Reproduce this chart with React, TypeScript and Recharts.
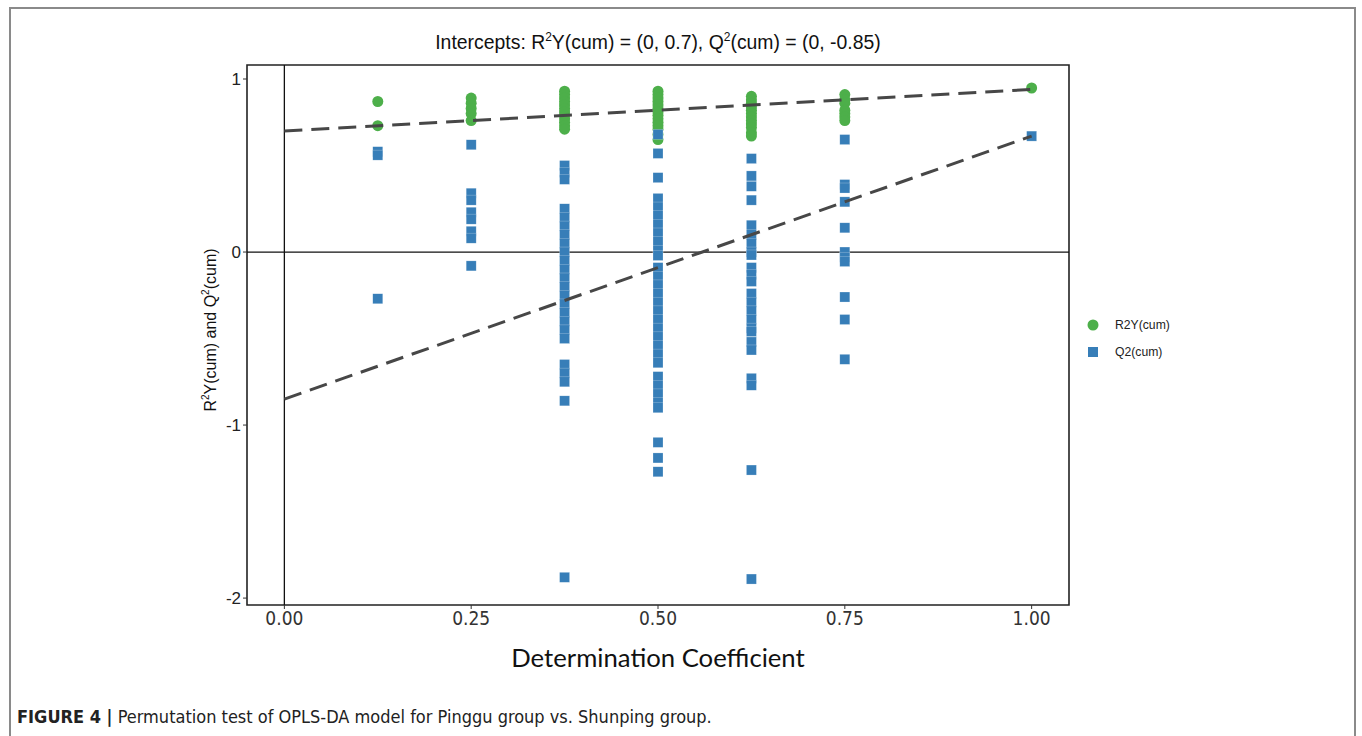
import React from 'react';
import { ScatterChart, Scatter, XAxis, YAxis, ReferenceLine, ReferenceArea } from 'recharts';

const xCategories = [0.125, 0.25, 0.375, 0.5, 0.625, 0.75, 1.0];

const r2Values: number[][] = [
  [0.87, 0.73],
  [0.89, 0.86, 0.83, 0.8, 0.76],
  [0.93, 0.91, 0.89, 0.87, 0.85, 0.83, 0.81, 0.79, 0.77, 0.75, 0.73, 0.71],
  [0.93, 0.91, 0.89, 0.87, 0.85, 0.83, 0.81, 0.79, 0.77, 0.75, 0.73, 0.71, 0.68, 0.65],
  [0.9, 0.88, 0.86, 0.84, 0.82, 0.8, 0.78, 0.76, 0.74, 0.72, 0.69, 0.67],
  [0.91, 0.88, 0.86, 0.82, 0.8, 0.78, 0.76],
  [0.948],
];

const q2Values: number[][] = [
  [0.58, 0.56, -0.27],
  [0.62, 0.34, 0.3, 0.23, 0.19, 0.12, 0.08, -0.08],
  [0.5, 0.46, 0.42, 0.25, 0.2, 0.15, 0.1, 0.05, 0.0, -0.05, -0.1, -0.15, -0.2, -0.25, -0.3, -0.35, -0.4, -0.45, -0.5, -0.65, -0.7, -0.75, -0.86, -1.88],
  [0.68, 0.57, 0.43, 0.31, 0.26, 0.21, 0.16, 0.11, 0.06, 0.01, -0.02, -0.09, -0.14, -0.19, -0.24, -0.29, -0.34, -0.39, -0.44, -0.49, -0.54, -0.59, -0.64, -0.72, -0.77, -0.82, -0.87, -0.9, -1.1, -1.19, -1.27],
  [0.54, 0.44, 0.38, 0.3, 0.155, 0.1, 0.05, 0.0, -0.017, -0.09, -0.13, -0.17, -0.24, -0.29, -0.34, -0.39, -0.44, -0.46, -0.52, -0.566, -0.73, -0.77, -1.26, -1.89],
  [0.65, 0.39, 0.37, 0.29, 0.14, 0.0, -0.03, -0.055, -0.26, -0.39, -0.62],
  [0.67],
];

const r2Intercept = [
  { x: 0, y: 0.7 },
  { x: 1, y: 0.94 },
];
const q2Intercept = [
  { x: 0, y: -0.85 },
  { x: 1, y: 0.67 },
];

const xTicks = [0, 0.25, 0.5, 0.75, 1.0];
const yTicks = [-2, -1, 0, 1];
const xDomain: [number, number] = [-0.05, 1.05];
const yDomain: [number, number] = [-2.04, 1.081];

const GREEN = '#4DAF4A';
const BLUE = '#377EB8';

const r2Data = xCategories.flatMap((x, i) => r2Values[i].map((y) => ({ x, y })));
const q2Data = xCategories.flatMap((x, i) => q2Values[i].map((y) => ({ x, y })));

const Circle = (p: any) => <circle cx={p.cx} cy={p.cy} r={5.5} fill={GREEN} />;
const Square = (p: any) => (
  <rect x={p.cx - 5} y={p.cy - 5} width={10} height={10} fill={BLUE} stroke="rgba(255,255,255,0.45)" strokeWidth={0.5} />
);
const Empty = () => <g />;

export default function App() {
  return (
    <div style={{ position: 'absolute', left: 0, top: 0, width: 1362, height: 736, overflow: 'hidden', background: '#fff' }}>
      <div style={{ position: 'absolute', left: 9, top: 7, width: 1347, height: 800, border: '2px solid #8a8a8a', boxSizing: 'border-box' }} />
      <div style={{ position: 'absolute', left: 0, top: 0 }}>
        <ScatterChart width={1362} height={736} margin={{ top: 65, right: 293, bottom: 101, left: 0 }}>
          <XAxis
            type="number"
            dataKey="x"
            domain={xDomain}
            ticks={xTicks}
            allowDataOverflow
            height={30}
            tickFormatter={(v: number) => v.toFixed(2)}
            tick={{ fontSize: 19, fill: '#333', fontFamily: "'Liberation Sans Narrow', 'DejaVu Sans Condensed', sans-serif" }}
            tickSize={4}
            tickMargin={3}
            axisLine={false}
            tickLine={{ stroke: '#333' }}
          />
          <YAxis
            type="number"
            dataKey="y"
            domain={yDomain}
            ticks={yTicks}
            allowDataOverflow
            width={247}
            tick={{ fontSize: 17, fill: '#222', fontFamily: "'Liberation Sans', Arial, sans-serif" }}
            tickSize={4}
            tickMargin={2}
            axisLine={false}
            tickLine={{ stroke: '#333' }}
          />
          <Scatter data={r2Data} shape={Circle} isAnimationActive={false} />
          <Scatter data={q2Data} shape={Square} isAnimationActive={false} />
          <ReferenceLine x={0} stroke="#111" strokeWidth={1.3} />
          <ReferenceLine y={0} stroke="#111" strokeWidth={1.3} />
          <Scatter
            data={r2Intercept}
            shape={Empty}
            line={{ stroke: '#474747', strokeWidth: 3, strokeDasharray: '18 9' }}
            isAnimationActive={false}
          />
          <Scatter
            data={q2Intercept}
            shape={Empty}
            line={{ stroke: '#474747', strokeWidth: 3, strokeDasharray: '18 9' }}
            isAnimationActive={false}
          />
          <ReferenceArea
            x1={xDomain[0]}
            x2={xDomain[1]}
            y1={yDomain[0]}
            y2={yDomain[1]}
            fill="none"
            fillOpacity={0}
            stroke="#222"
            strokeWidth={1.6}
            ifOverflow="visible"
          />
        </ScatterChart>
      </div>
      <div
        style={{
          position: 'absolute',
          left: 358,
          width: 600,
          top: 29,
          textAlign: 'center',
          fontFamily: "'Liberation Sans', Arial, sans-serif",
          fontSize: 19.4,
          color: '#111',
          whiteSpace: 'nowrap',
          lineHeight: '26px',
        }}
      >
        Intercepts: R<sup style={{ fontSize: 12, verticalAlign: 8, lineHeight: 0 }}>2</sup>Y(cum) = (0, 0.7), Q
        <sup style={{ fontSize: 12, verticalAlign: 8, lineHeight: 0 }}>2</sup>(cum) = (0, -0.85)
      </div>
      <div
        style={{
          position: 'absolute',
          left: 211 - 150,
          top: 330 - 10,
          width: 300,
          height: 20,
          lineHeight: '20px',
          textAlign: 'center',
          transform: 'rotate(-90deg)',
          fontFamily: "'Liberation Sans', Arial, sans-serif",
          fontSize: 16,
          color: '#111',
          whiteSpace: 'nowrap',
        }}
      >
        R<sup style={{ fontSize: 10, verticalAlign: 7, lineHeight: 0 }}>2</sup>Y(cum) and Q
        <sup style={{ fontSize: 10, verticalAlign: 7, lineHeight: 0 }}>2</sup>(cum)
      </div>
      <div
        style={{
          position: 'absolute',
          left: 358,
          width: 600,
          top: 641,
          textAlign: 'center',
          fontFamily: 'Lato, sans-serif',
          fontSize: 25.7,
          color: '#111',
          lineHeight: '32px',
        }}
      >
        Determination Coefficient
      </div>
      <div style={{ position: 'absolute', left: 1085, top: 315, fontFamily: "'Liberation Sans', Arial, sans-serif", fontSize: 12.2, color: '#222' }}>
        <div style={{ display: 'flex', alignItems: 'center', height: 20 }}>
          <svg width={18} height={18}>
            <circle cx={8} cy={9} r={5.5} fill={GREEN} />
          </svg>
          <span style={{ marginLeft: 12 }}>R2Y(cum)</span>
        </div>
        <div style={{ display: 'flex', alignItems: 'center', height: 20, marginTop: 7 }}>
          <svg width={18} height={18}>
            <rect x={3} y={4} width={10} height={10} fill={BLUE} />
          </svg>
          <span style={{ marginLeft: 12 }}>Q2(cum)</span>
        </div>
      </div>
      <div
        style={{
          position: 'absolute',
          left: 17,
          top: 706,
          fontFamily: "'Liberation Sans Narrow', 'DejaVu Sans Condensed', sans-serif",
          fontSize: 18,
          color: '#222',
          whiteSpace: 'nowrap',
        }}
      >
        <b>FIGURE 4 |</b> Permutation test of OPLS-DA model for Pinggu group vs. Shunping group.
      </div>
    </div>
  );
}
